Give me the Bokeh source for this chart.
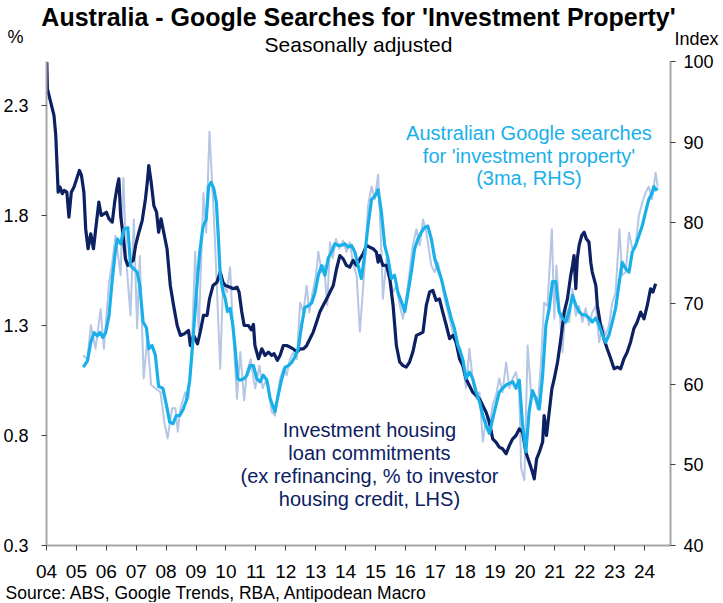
from bokeh.plotting import figure
from bokeh.models import Range1d, LinearAxis, FixedTicker, Label, Title
from bokeh.embed import file_html
from bokeh.resources import INLINE

# ---------------- data ----------------
# Investment housing loan commitments, % of investor housing credit (LHS)
navy_x = [2004.01, 2004.03, 2004.14, 2004.25, 2004.31, 2004.39, 2004.45, 2004.53, 2004.59, 2004.68,
          2004.75, 2004.83, 2004.92, 2005.01, 2005.10, 2005.17, 2005.25, 2005.31, 2005.39, 2005.48,
          2005.57, 2005.64, 2005.75, 2005.83, 2005.92, 2006.00, 2006.09, 2006.20, 2006.28, 2006.37,
          2006.42, 2006.48, 2006.55, 2006.64, 2006.72, 2006.81, 2006.90, 2006.98, 2007.09, 2007.20,
          2007.31, 2007.37, 2007.42, 2007.50, 2007.59, 2007.68, 2007.75, 2007.83, 2007.92, 2008.03,
          2008.14, 2008.25, 2008.37, 2008.48, 2008.61, 2008.75, 2008.81, 2008.92, 2009.05, 2009.14,
          2009.25, 2009.37, 2009.45, 2009.57, 2009.70, 2009.81, 2009.90, 2009.98, 2010.14, 2010.25,
          2010.37, 2010.44, 2010.53, 2010.61, 2010.75, 2010.85, 2010.92, 2010.97, 2011.09, 2011.20,
          2011.31, 2011.42, 2011.53, 2011.61, 2011.72, 2011.81, 2011.92, 2012.03, 2012.14, 2012.25,
          2012.37, 2012.48, 2012.59, 2012.70, 2012.81, 2012.92, 2013.03, 2013.14, 2013.25, 2013.37,
          2013.48, 2013.59, 2013.70, 2013.81, 2013.92, 2014.03, 2014.14, 2014.25, 2014.37, 2014.48,
          2014.59, 2014.70, 2014.81, 2014.92, 2015.03, 2015.09, 2015.14, 2015.25, 2015.37, 2015.48,
          2015.59, 2015.70, 2015.81, 2015.92, 2016.03, 2016.14, 2016.25, 2016.37, 2016.48, 2016.59,
          2016.70, 2016.81, 2016.92, 2017.03, 2017.14, 2017.25, 2017.37, 2017.48, 2017.59, 2017.70,
          2017.81, 2017.92, 2018.03, 2018.14, 2018.25, 2018.37, 2018.48, 2018.59, 2018.70, 2018.81,
          2018.92, 2019.03, 2019.14, 2019.25, 2019.37, 2019.48, 2019.59, 2019.70, 2019.81, 2019.92,
          2020.03, 2020.14, 2020.25, 2020.31, 2020.39, 2020.48, 2020.59, 2020.64, 2020.72, 2020.81,
          2020.90, 2020.98, 2021.09, 2021.20, 2021.31, 2021.42, 2021.53, 2021.59, 2021.64, 2021.70,
          2021.75, 2021.81, 2021.90, 2021.98, 2022.05, 2022.14, 2022.20, 2022.25, 2022.37, 2022.42,
          2022.53, 2022.64, 2022.75, 2022.87, 2022.98, 2023.09, 2023.20, 2023.31, 2023.42, 2023.53,
          2023.64, 2023.75, 2023.87, 2023.98, 2024.09, 2024.20, 2024.28, 2024.37]
navy_y = [2.497, 2.376, 2.315, 2.255, 2.164, 1.906, 1.929, 1.899, 1.914, 1.906,
          1.793, 1.906, 1.929, 1.967, 2.005, 1.982, 1.906, 1.740, 1.649, 1.717,
          1.649, 1.732, 1.861, 1.800, 1.807, 1.815, 1.785, 1.770, 1.861, 1.936,
          1.967, 1.800, 1.724, 1.603, 1.573, 1.588, 1.596, 1.664, 1.724, 1.777,
          1.876, 1.951, 2.027, 1.951, 1.845, 1.815, 1.724, 1.785, 1.724, 1.649,
          1.482, 1.391, 1.300, 1.255, 1.262, 1.277, 1.209, 1.255, 1.217, 1.270,
          1.346, 1.346, 1.421, 1.482, 1.497, 1.543, 1.497, 1.482, 1.474, 1.467,
          1.474, 1.452, 1.361, 1.300, 1.300, 1.280, 1.305, 1.209, 1.149, 1.194,
          1.164, 1.179, 1.164, 1.172, 1.142, 1.164, 1.209, 1.209, 1.202, 1.194,
          1.179, 1.194, 1.194, 1.209, 1.240, 1.270, 1.315, 1.361, 1.391, 1.421,
          1.452, 1.482, 1.558, 1.618, 1.603, 1.573, 1.565, 1.596, 1.573, 1.603,
          1.626, 1.664, 1.656, 1.649, 1.634, 1.588, 1.618, 1.573, 1.573, 1.512,
          1.391, 1.209, 1.134, 1.118, 1.111, 1.134, 1.179, 1.255, 1.262, 1.270,
          1.391, 1.452, 1.459, 1.414, 1.421, 1.361, 1.300, 1.240, 1.255, 1.224,
          1.149, 1.118, 1.058, 1.027, 0.997, 0.982, 0.967, 0.936, 0.906, 0.861,
          0.785, 0.770, 0.747, 0.740, 0.717, 0.755, 0.785, 0.800, 0.830, 0.815,
          0.724, 0.679, 0.634, 0.603, 0.694, 0.724, 0.770, 0.891, 0.800, 0.906,
          1.012, 1.058, 1.134, 1.240, 1.361, 1.421, 1.527, 1.573, 1.618, 1.467,
          1.603, 1.664, 1.709, 1.724, 1.694, 1.679, 1.588, 1.543, 1.482, 1.391,
          1.300, 1.240, 1.194, 1.149, 1.103, 1.111, 1.103, 1.149, 1.179, 1.224,
          1.285, 1.315, 1.361, 1.330, 1.391, 1.467, 1.452, 1.490]

# Australian Google searches for 'investment property', 3ma (RHS)
cyan_x = [2005.23, 2005.37, 2005.48, 2005.59, 2005.70, 2005.79, 2005.88, 2005.98, 2006.09, 2006.20,
          2006.31, 2006.37, 2006.48, 2006.59, 2006.72, 2006.81, 2006.92, 2007.03, 2007.12, 2007.23,
          2007.34, 2007.42, 2007.53, 2007.64, 2007.75, 2007.89, 2008.01, 2008.12, 2008.23, 2008.34,
          2008.45, 2008.56, 2008.68, 2008.79, 2008.90, 2009.01, 2009.12, 2009.23, 2009.34, 2009.42,
          2009.50, 2009.59, 2009.68, 2009.75, 2009.81, 2009.90, 2009.98, 2010.05, 2010.14, 2010.23,
          2010.31, 2010.39, 2010.48, 2010.61, 2010.70, 2010.81, 2010.92, 2011.03, 2011.14, 2011.25,
          2011.37, 2011.48, 2011.64, 2011.75, 2011.87, 2011.98, 2012.09, 2012.20, 2012.31, 2012.42,
          2012.53, 2012.64, 2012.75, 2012.87, 2012.98, 2013.09, 2013.20, 2013.31, 2013.42, 2013.53,
          2013.64, 2013.75, 2013.87, 2013.98, 2014.09, 2014.20, 2014.31, 2014.42, 2014.53, 2014.64,
          2014.75, 2014.87, 2014.98, 2015.09, 2015.20, 2015.31, 2015.42, 2015.53, 2015.64, 2015.75,
          2015.87, 2015.98, 2016.09, 2016.20, 2016.31, 2016.42, 2016.53, 2016.64, 2016.75, 2016.87,
          2016.98, 2017.09, 2017.20, 2017.31, 2017.42, 2017.53, 2017.64, 2017.75, 2017.84, 2017.92,
          2018.03, 2018.14, 2018.25, 2018.37, 2018.48, 2018.59, 2018.70, 2018.81, 2018.92, 2019.03,
          2019.14, 2019.25, 2019.37, 2019.48, 2019.59, 2019.70, 2019.81, 2019.92, 2020.03, 2020.14,
          2020.25, 2020.37, 2020.48, 2020.59, 2020.70, 2020.81, 2020.92, 2021.03, 2021.14, 2021.25,
          2021.37, 2021.48, 2021.59, 2021.70, 2021.81, 2021.92, 2022.03, 2022.14, 2022.25, 2022.37,
          2022.48, 2022.59, 2022.70, 2022.81, 2022.92, 2023.03, 2023.14, 2023.25, 2023.37, 2023.48,
          2023.59, 2023.70, 2023.81, 2023.92, 2024.03, 2024.14, 2024.25, 2024.31, 2024.37, 2024.44]
cyan_y = [62.1, 62.9, 65.2, 66.4, 66.0, 66.4, 65.8, 66.4, 68.5, 73.0,
          76.7, 78.0, 77.4, 79.2, 79.4, 74.7, 74.3, 73.9, 72.2, 67.7,
          67.0, 64.4, 64.8, 63.6, 59.7, 59.5, 57.4, 55.3, 55.1, 56.1,
          56.1, 56.8, 58.0, 60.5, 65.5, 71.3, 76.2, 79.5, 80.4, 84.5,
          85.0, 84.3, 82.5, 78.0, 73.5, 71.5, 70.6, 69.0, 69.4, 67.3,
          64.4, 60.7, 60.5, 60.7, 61.1, 62.3, 62.3, 60.7, 60.3, 61.1,
          60.5, 58.2, 56.6, 58.7, 60.7, 62.1, 62.3, 62.7, 63.4, 64.4,
          67.3, 69.5, 69.7, 70.1, 71.4, 73.5, 74.7, 73.5, 75.6, 76.4,
          77.4, 77.2, 77.2, 77.4, 77.0, 77.2, 76.4, 74.7, 73.1, 76.0,
          79.6, 82.9, 83.3, 84.1, 81.3, 77.2, 75.6, 73.1, 73.5, 71.4,
          70.2, 69.0, 71.4, 73.9, 76.8, 78.0, 78.8, 79.4, 79.6, 78.0,
          75.6, 74.3, 73.1, 71.4, 69.8, 68.2, 66.9, 64.9, 64.0, 63.1,
          60.7, 61.5, 60.7, 59.0, 57.8, 56.1, 54.9, 53.9, 55.7, 57.4,
          59.0, 59.5, 59.9, 60.1, 60.3, 59.5, 60.5, 54.9, 51.6, 56.6,
          59.2, 58.2, 56.9, 61.1, 67.3, 69.4, 72.7, 72.7, 69.0, 68.2,
          67.7, 69.0, 71.0, 69.8, 69.0, 68.6, 68.6, 68.2, 67.7, 68.2,
          67.3, 66.1, 65.2, 66.1, 67.7, 69.4, 72.3, 75.1, 74.3, 73.9,
          76.4, 77.2, 78.4, 79.6, 81.3, 82.9, 83.7, 84.5, 84.1, 84.3]

# Raw monthly Google searches (RHS)
raw_x = [2005.23, 2005.37, 2005.48, 2005.64, 2005.81, 2005.92, 2006.09, 2006.20, 2006.31, 2006.48,
         2006.57, 2006.68, 2006.81, 2006.92, 2007.03, 2007.12, 2007.25, 2007.37, 2007.50, 2007.64,
         2007.81, 2007.94, 2008.05, 2008.20, 2008.31, 2008.39, 2008.48, 2008.64, 2008.75, 2008.86,
         2008.97, 2009.09, 2009.25, 2009.34, 2009.45, 2009.57, 2009.64, 2009.81, 2009.90, 2010.03,
         2010.14, 2010.23, 2010.37, 2010.48, 2010.61, 2010.70, 2010.83, 2010.92, 2010.98, 2011.12,
         2011.23, 2011.37, 2011.53, 2011.64, 2011.81, 2011.92, 2012.03, 2012.14, 2012.25, 2012.37,
         2012.48, 2012.59, 2012.70, 2012.79, 2012.90, 2013.01, 2013.09, 2013.20, 2013.28, 2013.39,
         2013.48, 2013.57, 2013.68, 2013.79, 2013.92, 2014.03, 2014.14, 2014.25, 2014.37, 2014.48,
         2014.64, 2014.75, 2014.87, 2014.98, 2015.09, 2015.20, 2015.25, 2015.37, 2015.48, 2015.59,
         2015.70, 2015.81, 2015.92, 2016.03, 2016.14, 2016.25, 2016.37, 2016.48, 2016.59, 2016.70,
         2016.87, 2016.98, 2017.09, 2017.20, 2017.31, 2017.42, 2017.53, 2017.64, 2017.75, 2017.84,
         2017.92, 2018.03, 2018.14, 2018.25, 2018.37, 2018.48, 2018.59, 2018.70, 2018.81, 2018.92,
         2019.03, 2019.14, 2019.25, 2019.37, 2019.48, 2019.59, 2019.70, 2019.81, 2019.87, 2019.98,
         2020.09, 2020.20, 2020.31, 2020.42, 2020.53, 2020.64, 2020.75, 2020.90, 2020.98, 2021.05,
         2021.14, 2021.25, 2021.37, 2021.48, 2021.59, 2021.70, 2021.81, 2021.92, 2022.03, 2022.14,
         2022.25, 2022.37, 2022.48, 2022.59, 2022.70, 2022.81, 2022.92, 2023.03, 2023.16, 2023.25,
         2023.37, 2023.48, 2023.59, 2023.70, 2023.81, 2023.92, 2024.03, 2024.14, 2024.25, 2024.37,
         2024.44]
raw_y = [63.6, 63.0, 67.3, 64.4, 69.3, 64.4, 72.6, 75.1, 78.4, 73.5,
         85.6, 74.7, 68.5, 80.4, 66.9, 75.9, 60.7, 65.6, 59.9, 59.5,
         59.0, 55.3, 53.3, 57.0, 57.0, 54.1, 57.0, 59.0, 58.2, 64.4,
         76.4, 66.5, 83.7, 78.8, 91.3, 82.9, 77.2, 61.9, 72.2, 71.4,
         74.5, 67.3, 58.2, 64.0, 58.0, 61.5, 63.1, 60.7, 59.5, 62.3,
         59.5, 60.7, 56.6, 56.1, 60.7, 61.9, 61.1, 63.1, 63.9, 63.1,
         70.1, 68.9, 72.2, 68.9, 71.4, 73.5, 76.4, 73.9, 74.7, 69.8,
         77.6, 75.6, 78.0, 76.8, 77.8, 76.4, 77.6, 75.1, 73.5, 66.5,
         74.7, 82.1, 84.5, 82.9, 86.0, 76.4, 70.6, 75.6, 73.5, 71.4,
         72.2, 69.8, 68.1, 70.6, 73.9, 77.2, 79.2, 77.2, 80.4, 78.8,
         74.7, 73.9, 75.1, 73.1, 70.6, 69.0, 67.3, 65.6, 64.0, 64.4,
         62.3, 59.5, 64.4, 60.7, 58.2, 59.0, 52.9, 55.7, 54.9, 57.4,
         58.6, 60.7, 59.0, 62.7, 59.5, 60.7, 61.5, 59.0, 49.6, 48.1,
         64.8, 59.0, 58.6, 56.9, 62.3, 70.1, 69.7, 79.2, 68.1, 74.7,
         70.1, 64.0, 69.7, 67.7, 71.8, 68.5, 69.7, 67.7, 69.4, 67.3,
         68.9, 69.7, 65.2, 67.3, 66.1, 67.3, 70.1, 71.4, 79.2, 73.5,
         73.9, 78.8, 76.8, 77.2, 80.9, 82.5, 83.7, 84.5, 82.9, 86.2,
         84.5]

year_ticks = list(range(2004, 2025))
year_labels = ["04", "05", "06", "07", "08", "09", "10", "11", "12", "13", "14",
               "15", "16", "17", "18", "19", "20", "21", "22", "23", "24"]
lhs_ticks = [0.3, 0.8, 1.3, 1.8, 2.3]
lhs_labels = ["0.3", "0.8", "1.3", "1.8", "2.3"]
rhs_ticks = [40, 50, 60, 70, 80, 90, 100]
rhs_labels = ["40", "50", "60", "70", "80", "90", "100"]

title_text = "Australia - Google Searches for 'Investment Property'"
subtitle_text = "Seasonally adjusted"
source_text = "Source: ABS, Google Trends, RBA, Antipodean Macro"
lhs_unit = "%"
rhs_unit = "Index"
cyan_note = ["Australian Google searches", "for 'investment property'", "(3ma, RHS)"]
navy_note = ["Investment housing", "loan commitments", "(ex refinancing, % to investor",
             "housing credit, LHS)"]

# ---------------- styling ----------------
NAVY = "#0c2062"
CYAN = "#19b0ea"
RAW = "#b6c6e5"
FONT = "Liberation Sans"
AXIS_GREY = "#a6a6a6"
TICK = "#404040"

X0, X1 = 2004.0, 2024.8667
Y0, Y1 = 0.3, 2.5
# frame position on the canvas (pixels)
W, H = 720, 602
FL, FT = 44, 61
FR, FB = 670, 546

p = figure(width=W, height=H, output_backend="svg", toolbar_location=None,
           x_range=Range1d(X0, X1), y_range=Range1d(Y0, Y1),
           x_axis_location=None, y_axis_location=None,
           min_border_left=FL, min_border_right=W - FR,
           min_border_top=FT, min_border_bottom=H - FB)
p.extra_y_ranges = {"rhs": Range1d(40, 100)}
p.outline_line_color = None
p.xgrid.visible = False
p.ygrid.visible = False
p.background_fill_color = "white"
p.border_fill_color = "white"


def style_axis(ax, standoff):
    ax.axis_line_color = AXIS_GREY
    ax.axis_line_width = 2
    ax.major_tick_line_color = TICK
    ax.major_tick_line_width = 1
    ax.major_tick_in = 0
    ax.major_tick_out = 5
    ax.minor_tick_line_color = None
    ax.major_label_text_font = FONT
    ax.major_label_text_font_size = "18px"
    ax.major_label_text_color = "#000000"
    ax.major_label_standoff = standoff


xax = LinearAxis(ticker=FixedTicker(ticks=year_ticks),
                 major_label_overrides={t: l for t, l in zip(year_ticks, year_labels)})
style_axis(xax, 14)
xax.major_label_text_font_size = "19px"
p.add_layout(xax, "below")

lax = LinearAxis(ticker=FixedTicker(ticks=lhs_ticks),
                 major_label_overrides={t: l for t, l in zip(lhs_ticks, lhs_labels)})
style_axis(lax, 13)
p.add_layout(lax, "left")

rax = LinearAxis(y_range_name="rhs", ticker=FixedTicker(ticks=rhs_ticks),
                 major_label_overrides={t: l for t, l in zip(rhs_ticks, rhs_labels)})
style_axis(rax, 8)
p.add_layout(rax, "right")


def title_row(text, size, standoff, align="center", valign="bottom", offset=0, style="normal"):
    return Title(text=text, align=align, vertical_align=valign, offset=offset,
                 text_font=FONT, text_font_size=size, text_font_style=style,
                 text_color="#000000", standoff=standoff)


# top panel rows, listed from the frame upwards
p.add_layout(title_row(" ", "1px", 8), "above")                       # spacer
p.add_layout(title_row(subtitle_text, "21px", -14, valign="top"), "above")
p.add_layout(title_row(rhs_unit, "18px", -20, align="right", valign="middle", offset=-48), "above")
p.add_layout(title_row(lhs_unit, "18px", -20, align="left", valign="middle", offset=-39), "above")
p.add_layout(title_row(title_text, "25px", 4.6, valign="top", style="bold"), "above")
# source note under the x axis
p.add_layout(title_row(source_text, "17.5px", 0, align="left", offset=-41), "below")

p.line(raw_x, raw_y, y_range_name="rhs", line_color=RAW, line_width=2, line_join="round")
p.line(navy_x, navy_y, line_color=NAVY, line_width=3.2, line_join="round")
p.line(cyan_x, cyan_y, y_range_name="rhs", line_color=CYAN, line_width=3.2, line_join="round")


def cx(px):
    # canvas pixel -> x data
    return X0 + (px - FL) * (X1 - X0) / (FR - FL)


def cy(py):
    # canvas pixel -> left y data
    return Y0 + (FB - py) * (Y1 - Y0) / (FB - FT)


for i, t in enumerate(cyan_note):
    p.add_layout(Label(x=cx(528), y=cy(133 + 22.5 * i), text=t, text_align="center",
                       text_baseline="alphabetic", text_font=FONT, text_font_size="20px",
                       text_color=CYAN))
for i, t in enumerate(navy_note):
    p.add_layout(Label(x=cx(368), y=cy(430 + 23 * i), text=t, text_align="center",
                       text_baseline="alphabetic", text_font=FONT, text_font_size="20px",
                       text_color=NAVY))

open("out.html", "w").write(file_html(p, INLINE))
